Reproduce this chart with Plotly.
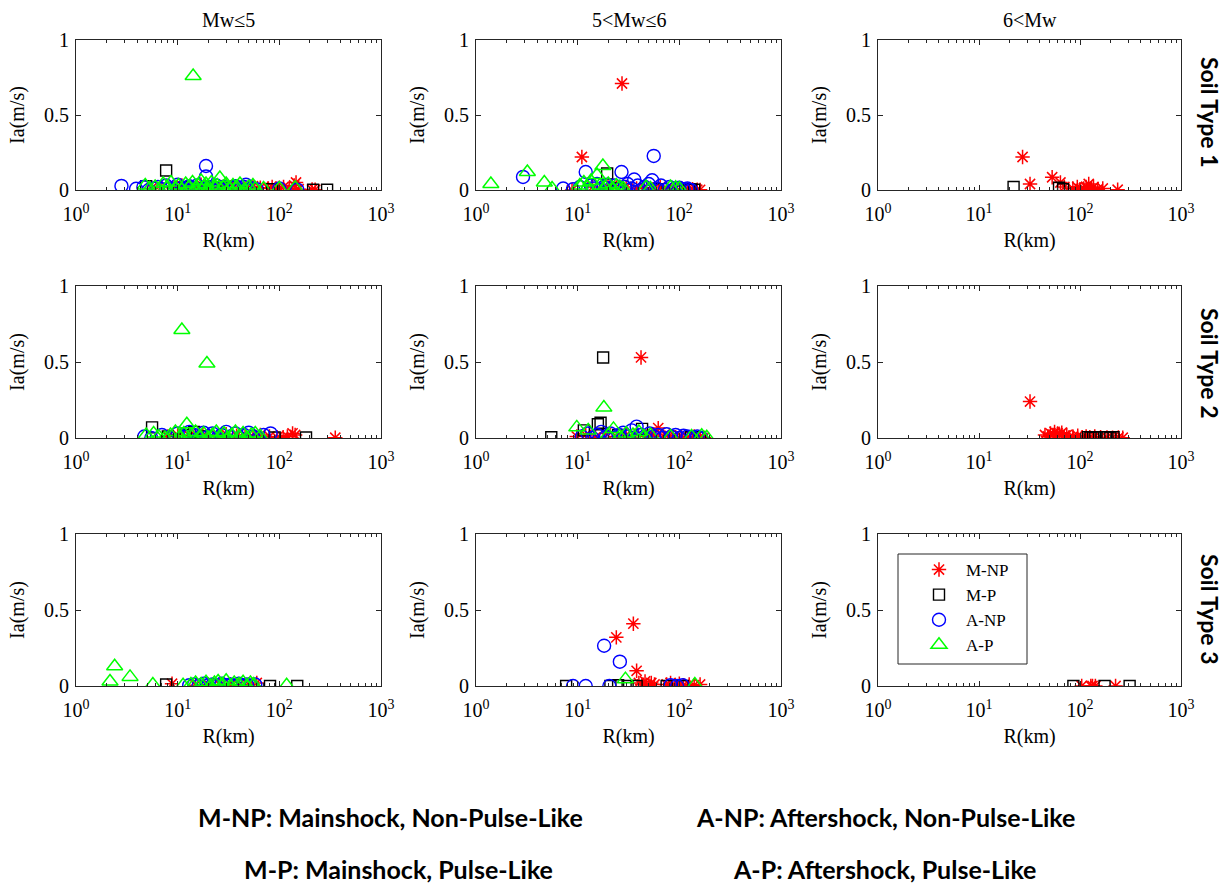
import plotly.graph_objects as go

# ---------------- data (R in km, Ia in m/s) ----------------
# Soil Type 1, Mw<=5
R_MNP_11 = [5.5, 7, 9, 11, 13, 15, 17, 20, 23, 26, 30, 35, 40, 46, 55, 65, 78, 85, 92, 100, 110, 125, 140, 146, 155, 210, 225]
IA_MNP_11 = [0.01, 0.02, 0.015, 0.03, 0.01, 0.02, 0.035, 0.025, 0.01, 0.02, 0.03, 0.015, 0.02, 0.01, 0.025, 0.015, 0.01, 0.02, 0.01, 0.015, 0.02, 0.01, 0.03, 0.05, 0.005, 0.003, 0.002]
R_MP_11 = [4.9, 7.7, 12, 19, 30, 85, 215, 295]
IA_MP_11 = [0.025, 0.13, 0.02, 0.015, 0.01, 0.005, 0.002, 0.002]
R_ANP_11 = [2.8, 3.9, 4.6, 5.2, 5.8, 6.4, 7, 7.7, 8.4, 9.2, 10, 11, 12, 13, 14, 15.5, 17, 19, 19, 20, 22, 24, 26, 28, 31, 34, 37, 41, 45, 47, 50, 55, 60, 100, 150]
IA_ANP_11 = [0.027, 0.008, 0.02, 0.0, 0.01, 0.02, 0.005, 0.03, 0.01, 0.0, 0.035, 0.015, 0.0, 0.025, 0.01, 0.03, 0.005, 0.16, 0.09, 0.02, 0.0, 0.03, 0.01, 0.02, 0.0, 0.015, 0.025, 0.005, 0.02, 0.035, 0.0, 0.01, 0.005, 0.01, 0.002]
R_AP_11 = [4.8, 5.3, 6, 6.6, 7.2, 7.9, 8.6, 9.4, 10.2, 11, 12, 13, 14, 14.2, 15, 16, 17, 18, 19, 20, 21.5, 23, 24.5, 26, 28, 30, 32, 35, 38, 41, 45, 50, 55, 58, 70, 100, 143]
IA_AP_11 = [0.03, 0.01, 0.02, 0.0, 0.04, 0.02, 0.05, 0.01, 0.03, 0.0, 0.04, 0.02, 0.05, 0.76, 0.01, 0.03, 0.06, 0.02, 0.04, 0.0, 0.05, 0.02, 0.03, 0.08, 0.02, 0.04, 0.01, 0.03, 0.02, 0.04, 0.0, 0.02, 0.03, 0.01, 0.01, 0.01, 0.015]

# Soil Type 1, 5<Mw<=6
R_MNP_12 = [8.8, 11, 14, 18, 22, 27.3, 30, 38, 45, 55, 65, 75, 90, 105, 120, 135, 150, 160]
IA_MNP_12 = [0.0, 0.22, 0.02, 0.01, 0.03, 0.71, 0.02, 0.01, 0.015, 0.005, 0.02, 0.01, 0.005, 0.01, 0.003, 0.005, 0.002, 0.001]
R_MP_12 = [19.5, 25, 60, 125, 130, 140]
IA_MP_12 = [0.11, 0.01, 0.005, 0.005, 0.003, 0.002]
R_ANP_12 = [2.9, 7.2, 9, 10.5, 12, 12.5, 13.5, 14.5, 15.5, 16.5, 18, 19.5, 21, 23, 25, 27, 29, 31, 34, 36, 39, 42, 46, 50, 54, 56, 60, 66, 72, 80, 90, 100, 110, 120, 130]
IA_ANP_12 = [0.087, 0.01, 0.005, 0.02, 0.12, 0.0, 0.03, 0.01, 0.04, 0.0, 0.02, 0.035, 0.01, 0.03, 0.0, 0.12, 0.02, 0.04, 0.01, 0.07, 0.03, 0.0, 0.02, 0.04, 0.065, 0.227, 0.01, 0.03, 0.0, 0.02, 0.01, 0.015, 0.005, 0.01, 0.0]
R_AP_12 = [1.4, 3.2, 4.7, 5.6, 10.5, 11.5, 12.5, 13.5, 15.5, 16.5, 17.7, 18.5, 20, 22, 24, 26, 28, 47, 52, 82, 92, 100]
IA_AP_12 = [0.04, 0.12, 0.05, 0.01, 0.03, 0.05, 0.02, 0.06, 0.1, 0.03, 0.16, 0.02, 0.04, 0.01, 0.03, 0.02, 0.01, 0.02, 0.01, 0.02, 0.015, 0.01]

# Soil Type 1, 6<Mw
R_MNP_13 = [27, 32, 53, 64, 70, 85, 94, 100, 109, 115, 122, 130, 136, 150, 168, 236]
IA_MNP_13 = [0.22, 0.04, 0.085, 0.05, 0.02, 0.01, 0.02, 0.005, 0.01, 0.02, 0.04, 0.005, 0.02, 0.005, 0.01, 0.002]
R_MP_13 = [22, 62, 68]
IA_MP_13 = [0.02, 0.015, 0.005]
R_ANP_13 = []
IA_ANP_13 = []
R_AP_13 = []
IA_AP_13 = []

# Soil Type 2, Mw<=5
R_MNP_21 = [8, 10, 13, 16, 20, 25, 30, 38, 46, 55, 65, 80, 95, 109, 120, 135, 143, 355]
IA_MNP_21 = [0.01, 0.02, 0.015, 0.03, 0.02, 0.01, 0.025, 0.015, 0.02, 0.01, 0.02, 0.01, 0.005, 0.005, 0.01, 0.03, 0.02, 0.002]
R_MP_21 = [5.6, 8, 12, 14.5, 18, 90, 183]
IA_MP_21 = [0.07, 0.01, 0.02, 0.04, 0.01, 0.003, 0.003]
R_ANP_21 = [4.7, 5.5, 7, 8.5, 10, 11.5, 13, 14.5, 16, 18, 20, 22, 24.5, 27, 30, 33, 37, 41, 45, 50, 55, 62, 70, 82]
IA_ANP_21 = [0.01, 0.0, 0.02, 0.0, 0.03, 0.01, 0.04, 0.02, 0.0, 0.035, 0.01, 0.03, 0.0, 0.02, 0.04, 0.01, 0.03, 0.0, 0.02, 0.035, 0.01, 0.0, 0.02, 0.03]
R_AP_21 = [4.9, 5.8, 6.5, 7.5, 8.5, 9.5, 10.5, 11, 11.5, 12.3, 13.5, 15, 16.5, 18, 19.4, 20, 22, 24, 26, 28.5, 31, 34, 37, 40, 44, 48, 53, 58, 65]
IA_AP_21 = [0.02, 0.03, 0.01, 0.0, 0.02, 0.04, 0.01, 0.71, 0.03, 0.09, 0.02, 0.04, 0.01, 0.03, 0.49, 0.0, 0.02, 0.04, 0.01, 0.03, 0.0, 0.02, 0.04, 0.01, 0.03, 0.0, 0.02, 0.03, 0.01]

# Soil Type 2, 5<Mw<=6
R_MNP_22 = [9.8, 12, 15, 19, 24, 30, 36, 42, 48, 55, 62, 70, 80, 92, 105, 120, 140, 160, 175]
IA_MNP_22 = [0.01, 0.02, 0.005, 0.03, 0.01, 0.02, 0.015, 0.53, 0.01, 0.02, 0.065, 0.01, 0.015, 0.005, 0.01, 0.005, 0.01, 0.005, 0.002]
R_MP_22 = [5.5, 11.5, 15.8, 16.8, 17.8, 25, 43, 130, 160]
IA_MP_22 = [0.005, 0.05, 0.09, 0.1, 0.53, 0.02, 0.06, 0.005, 0.005]
R_ANP_22 = [11, 12.5, 14, 15.5, 17, 19, 21, 23, 25.5, 28, 31, 34, 38, 42, 46, 51, 56, 62, 68, 75, 83, 92, 100, 110, 120, 135, 150, 165]
IA_ANP_22 = [0.01, 0.03, 0.0, 0.02, 0.04, 0.01, 0.03, 0.0, 0.02, 0.035, 0.01, 0.05, 0.075, 0.02, 0.0, 0.03, 0.01, 0.02, 0.0, 0.025, 0.01, 0.02, 0.0, 0.015, 0.01, 0.005, 0.01, 0.0]
R_AP_22 = [9.8, 12.7, 18.1, 20, 22.5, 26, 30, 35, 40, 45, 52, 82, 132, 166, 186]
IA_AP_22 = [0.07, 0.05, 0.2, 0.02, 0.06, 0.01, 0.03, 0.02, 0.04, 0.01, 0.02, 0.01, 0.01, 0.015, 0.005]

# Soil Type 2, 6<Mw
R_MNP_23 = [32, 45, 48, 51, 54, 56, 58, 60, 63, 66, 70, 74, 78, 85, 95, 105, 115, 125, 140, 160, 185, 210, 240, 265]
IA_MNP_23 = [0.24, 0.02, 0.01, 0.03, 0.02, 0.04, 0.01, 0.03, 0.02, 0.035, 0.01, 0.02, 0.005, 0.01, 0.015, 0.005, 0.01, 0.005, 0.01, 0.005, 0.003, 0.002, 0.004, 0.002]
R_MP_23 = [120, 127, 135, 142, 180, 187, 200, 215]
IA_MP_23 = [0.005, 0.005, 0.003, 0.005, 0.004, 0.005, 0.003, 0.005]
R_ANP_23 = []
IA_ANP_23 = []
R_AP_23 = []
IA_AP_23 = []

# Soil Type 3, Mw<=5
R_MNP_31 = [8.8, 15, 20, 26, 33, 40, 50, 60]
IA_MNP_31 = [0.015, 0.005, 0.01, 0.005, 0.01, 0.005, 0.01, 0.02]
R_MP_31 = [7.7, 81, 150]
IA_MP_31 = [0.01, 0.0, 0.0]
R_ANP_31 = [13, 14.5, 16, 18, 20, 22, 24, 27, 30, 33, 36, 40, 44, 48, 53, 58]
IA_ANP_31 = [0.005, 0.01, 0.0, 0.015, 0.005, 0.01, 0.0, 0.015, 0.005, 0.01, 0.0, 0.015, 0.005, 0.01, 0.0, 0.01]
R_AP_31 = [2.16, 2.4, 3.4, 5.7, 11.3, 13.5, 15, 17, 19, 21, 23, 25, 27.5, 30, 33, 36, 40, 44, 48, 52, 56, 118]
IA_AP_31 = [0.03, 0.13, 0.06, 0.01, 0.005, 0.01, 0.02, 0.01, 0.025, 0.0, 0.02, 0.03, 0.01, 0.035, 0.0, 0.02, 0.01, 0.025, 0.0, 0.02, 0.01, 0.005]

# Soil Type 3, 5<Mw<=6
R_MNP_32 = [24, 35.3, 38, 40, 43, 46, 50, 53, 57, 75, 82, 90, 100, 110, 125, 140, 160]
IA_MNP_32 = [0.32, 0.41, 0.1, 0.02, 0.01, 0.03, 0.005, 0.02, 0.01, 0.01, 0.02, 0.005, 0.015, 0.005, 0.01, 0.005, 0.01]
R_MP_32 = [7.7, 21, 25, 31, 38, 75, 108]
IA_MP_32 = [0.0, 0.0, 0.005, 0.0, 0.0, 0.0, 0.0]
R_ANP_32 = [9, 12, 18.2, 20.5, 26, 82, 95, 108]
IA_ANP_32 = [0.0, 0.0, 0.265, 0.0, 0.16, 0.005, 0.0, 0.005]
R_AP_32 = [29.5, 142]
IA_AP_32 = [0.045, 0.01]

# Soil Type 3, 6<Mw
R_MNP_33 = [104, 128, 133, 142, 225]
IA_MNP_33 = [0.0, 0.0, 0.0, 0.0, 0.0]
R_MP_33 = [86, 175, 310]
IA_MP_33 = [0.0, 0.0, 0.0]
R_ANP_33 = []
IA_ANP_33 = []
R_AP_33 = []
IA_AP_33 = []

col_titles = ["Mw≤5", "5<Mw≤6", "6<Mw"]
row_titles = ["Soil Type 1", "Soil Type 2", "Soil Type 3"]
series_names = ["M-NP", "M-P", "A-NP", "A-P"]
x_tickvals = [1, 10, 100, 1000]
x_ticktext = ["10<sup>0</sup>", "10<sup>1</sup>", "10<sup>2</sup>", "10<sup>3</sup>"]
x_minor_vals = [2, 3, 4, 5, 6, 7, 8, 9, 20, 30, 40, 50, 60, 70, 80, 90, 200, 300, 400, 500, 600, 700, 800, 900]
y_tickvals = [0, 0.5, 1]
y_ticktext = ["0", "0.5", "1"]
notes = ["M-NP: Mainshock, Non-Pulse-Like", "A-NP: Aftershock, Non-Pulse-Like",
         "M-P: Mainshock, Pulse-Like", "A-P: Aftershock, Pulse-Like"]

# ---------------- figure ----------------
g = globals()
W, H = 1231, 886
col_px = [(76, 381), (476, 781), (878, 1181)]
row_px = [(40, 190), (286, 438), (534, 686)]

GREEN = "#00ff00"
styles = {
    "MNP": dict(symbol="asterisk-open", size=12, color="red", line=dict(color="red", width=1.5)),
    "MP": dict(symbol="square-open", size=11, color="black", line=dict(color="black", width=1.4)),
    "ANP": dict(symbol="circle-open", size=13, color="blue", line=dict(color="blue", width=1.4)),
    "AP": dict(symbol="triangle-up-open", size=14, color=GREEN, line=dict(color=GREEN, width=1.5)),
}
keys = ["MNP", "MP", "ANP", "AP"]

fig = go.Figure()
TF = "Liberation Serif"
axcol = "#262626"
idx = 0
for r in range(3):
    for c in range(3):
        idx += 1
        sfx = "" if idx == 1 else str(idx)
        xa, ya = "x" + sfx, "y" + sfx
        for k, name in zip(keys, series_names):
            xs = g[f"R_{k}_{r+1}{c+1}"]
            ys = g[f"IA_{k}_{r+1}{c+1}"]
            fig.add_trace(go.Scatter(
                x=xs, y=ys, mode="markers", name=name, marker=styles[k],
                xaxis=xa, yaxis=ya, showlegend=(idx == 1),
                cliponaxis=True))
        x0, x1 = col_px[c]
        y0, y1 = row_px[r]
        common = dict(showline=True, linecolor=axcol, linewidth=1, mirror="ticks",
                      ticks="inside", ticklen=5, tickcolor=axcol, showgrid=False,
                      zeroline=False, automargin=False,
                      tickfont=dict(family=TF, size=20, color="black"))
        fig.layout["xaxis" + sfx] = dict(
            domain=[x0 / W, x1 / W], anchor=ya, type="log", range=[0, 3],
            tickmode="array", tickvals=x_tickvals, ticktext=x_ticktext,
            ticklabelstandoff=6,
            minor=dict(tickmode="array", tickvals=x_minor_vals, ticks="inside",
                       ticklen=3, tickcolor=axcol, showgrid=False),
            title=dict(text="R(km)", font=dict(family=TF, size=20, color="black"), standoff=8),
            **common)
        fig.layout["yaxis" + sfx] = dict(
            domain=[1 - y1 / H, 1 - y0 / H], anchor=xa, range=[0, 1],
            tickmode="array", tickvals=y_tickvals, ticktext=y_ticktext,
            ticklabelstandoff=2,
            title=dict(text="Ia(m/s)", font=dict(family=TF, size=20, color="black"), standoff=14),
            **common)

ann = []
for c, t in enumerate(col_titles):
    x0, x1 = col_px[c]
    ann.append(dict(text=t, x=(x0 + x1) / 2 / W, y=1 - 20 / H, xref="paper", yref="paper",
                    xanchor="center", yanchor="middle", showarrow=False,
                    font=dict(family=TF, size=20, color="black")))
row_cy = [112, 363, 609]
for r, t in enumerate(row_titles):
    ann.append(dict(text="<b>" + t + "</b>", x=1210 / W, y=1 - row_cy[r] / H, xref="paper", yref="paper",
                    xanchor="center", yanchor="middle", showarrow=False, textangle=90,
                    font=dict(family="Lato", size=23, color="black")))
note_pos = [(390, 817), (885, 817), (398, 869), (884, 869)]
for t, (px, py) in zip(notes, note_pos):
    ann.append(dict(text="<b>" + t + "</b>", x=px / W, y=1 - py / H, xref="paper", yref="paper",
                    xanchor="center", yanchor="middle", showarrow=False,
                    font=dict(family="Lato", size=25, color="black")))

fig.update_layout(
    width=W, height=H, margin=dict(l=0, r=0, t=0, b=0, autoexpand=False),
    paper_bgcolor="white", plot_bgcolor="white",
    annotations=ann,
    shapes=[dict(type="rect", xref="paper", yref="paper",
                 x0=898 / W, x1=1027 / W, y0=1 - 664 / H, y1=1 - 554 / H,
                 line=dict(color=axcol, width=1), fillcolor="rgba(0,0,0,0)", layer="above")],
    legend=dict(x=912 / W, y=1 - 552 / H, xanchor="left", yanchor="top",
                borderwidth=0, bgcolor="rgba(0,0,0,0)",
                font=dict(family=TF, size=17, color="black"), itemwidth=44,
                tracegroupgap=0),
)

fig.write_html("out.html")
